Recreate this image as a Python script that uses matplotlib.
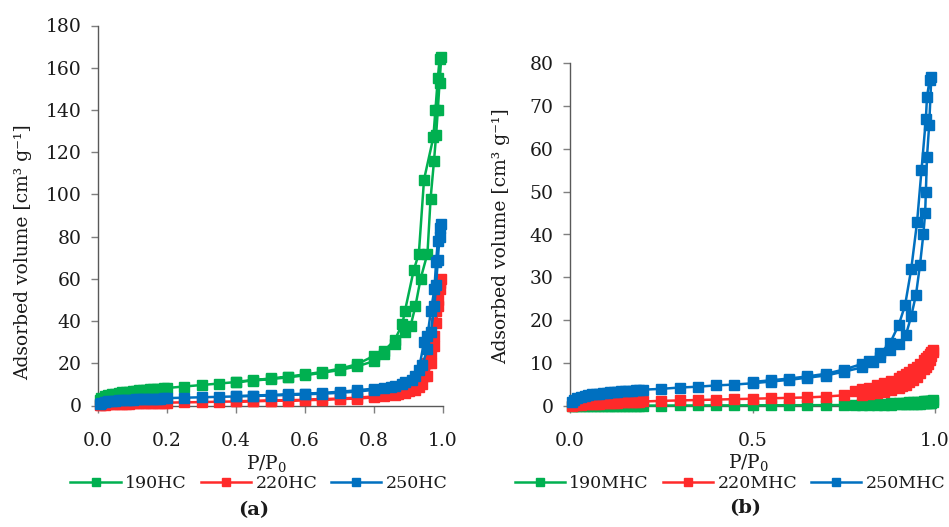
import matplotlib
matplotlib.use("Agg")
import matplotlib.pyplot as plt

plt.rcParams['font.family'] = ['DejaVu Serif']
plt.rcParams['mathtext.fontset'] = 'dejavuserif'
plt.rcParams['mathtext.default'] = 'regular'

# ---------------- Panel (a) data ----------------
a_labels = ["190HC", "220HC", "250HC"]

a190_ads_x = [0.005, 0.01, 0.02, 0.03, 0.04, 0.05, 0.06, 0.07, 0.08, 0.09, 0.10, 0.11, 0.12, 0.13, 0.14, 0.15, 0.16, 0.17, 0.18, 0.19, 0.20,
              0.25, 0.30, 0.35, 0.40, 0.45, 0.50, 0.55, 0.60, 0.65, 0.70, 0.75, 0.80,
              0.83, 0.86, 0.89, 0.906, 0.92, 0.935, 0.955, 0.964, 0.974, 0.98, 0.985, 0.99, 0.995]
a190_ads_y = [2.5, 3.5, 4.3, 4.9, 5.3, 5.6, 5.9, 6.2, 6.4, 6.6, 6.8, 7.0, 7.2, 7.3, 7.5, 7.6, 7.8, 7.9, 8.0, 8.1, 8.3,
              9.0, 9.7, 10.4, 11.1, 11.8, 12.5, 13.3, 14.3, 15.5, 16.8, 18.5, 21.0,
              24.5, 29, 35, 37.7, 47, 60, 72, 98, 116, 128, 140, 153, 165]
a190_des_x = [0.99, 0.985, 0.978, 0.972, 0.945, 0.93, 0.915, 0.89, 0.882, 0.86, 0.83, 0.80, 0.75, 0.70, 0.65, 0.60, 0.55, 0.50, 0.45, 0.40]
a190_des_y = [164, 155, 140, 127, 107, 72, 64, 45, 38.5, 31, 26, 23.5, 19.5, 17.4, 15.9, 14.7, 13.7, 12.8, 12.0, 11.3]

a220_ads_x = [0.005, 0.01, 0.02, 0.03, 0.04, 0.05, 0.06, 0.07, 0.08, 0.09, 0.10, 0.11, 0.12, 0.13, 0.14, 0.15, 0.16, 0.17, 0.18, 0.19, 0.20,
              0.25, 0.30, 0.35, 0.40, 0.45, 0.50, 0.55, 0.60, 0.65, 0.70, 0.75, 0.80,
              0.83, 0.86, 0.89, 0.92, 0.94, 0.955, 0.965, 0.975, 0.98, 0.985, 0.99, 0.995]
a220_ads_y = [0.2, 0.3, 0.4, 0.5, 0.6, 0.7, 0.75, 0.8, 0.85, 0.9, 0.95, 1.0, 1.05, 1.1, 1.15, 1.2, 1.2, 1.25, 1.3, 1.3, 1.35,
              1.5, 1.6, 1.8, 1.9, 2.0, 2.2, 2.3, 2.5, 2.7, 3.0, 3.3, 3.8,
              4.3, 5.0, 6.0, 7.5, 10, 14, 20, 28, 39, 47, 55, 60]
a220_des_x = [0.99, 0.985, 0.98, 0.975, 0.965, 0.955, 0.945, 0.93, 0.90, 0.87, 0.80, 0.75, 0.70, 0.65, 0.60, 0.55, 0.50, 0.45, 0.40]
a220_des_y = [58, 50, 45, 33, 25, 20, 14, 9, 7, 5.5, 4.3, 3.7, 3.3, 3.0, 2.7, 2.5, 2.3, 2.2, 2.0]

a250_ads_x = [0.005, 0.01, 0.02, 0.03, 0.04, 0.05, 0.06, 0.07, 0.08, 0.09, 0.10, 0.11, 0.12, 0.13, 0.14, 0.15, 0.16, 0.17, 0.18, 0.19, 0.20,
              0.25, 0.30, 0.35, 0.40, 0.45, 0.50, 0.55, 0.60, 0.65, 0.70, 0.75, 0.80,
              0.83, 0.86, 0.89, 0.92, 0.94, 0.955, 0.965, 0.975, 0.98, 0.985, 0.99, 0.995]
a250_ads_y = [0.8, 1.2, 1.6, 1.9, 2.1, 2.3, 2.4, 2.5, 2.6, 2.7, 2.8, 2.9, 3.0, 3.0, 3.1, 3.2, 3.2, 3.3, 3.3, 3.4, 3.5,
              3.7, 3.9, 4.1, 4.3, 4.5, 4.7, 5.0, 5.3, 5.6, 6.0, 6.6, 7.4,
              8.2, 9.3, 11, 14, 19, 27, 35, 47, 57, 69, 80, 86]
a250_des_x = [0.99, 0.985, 0.98, 0.975, 0.965, 0.955, 0.945, 0.93, 0.91, 0.88, 0.85, 0.80, 0.75, 0.70, 0.65, 0.60, 0.55, 0.50, 0.45, 0.40]
a250_des_y = [84, 78, 68, 55, 45, 33, 30, 17, 12, 10, 9, 8, 7.2, 6.5, 6.0, 5.6, 5.3, 5.0, 4.7, 4.5]

# ---------------- Panel (b) data ----------------
b_labels = ["190MHC", "220MHC", "250MHC"]

b_ads_x = [0.005, 0.01, 0.02, 0.03, 0.04, 0.05, 0.06, 0.07, 0.08, 0.09, 0.10, 0.11, 0.12, 0.13, 0.14, 0.15, 0.16, 0.17, 0.18, 0.19, 0.20,
           0.25, 0.30, 0.35, 0.40, 0.45, 0.50, 0.55, 0.60, 0.65, 0.70, 0.75, 0.80,
           0.82, 0.84, 0.86, 0.88, 0.90, 0.91, 0.92, 0.93, 0.94, 0.95, 0.96, 0.97, 0.975, 0.98, 0.985, 0.99, 0.995]
b_des_x = [0.995, 0.99, 0.985, 0.98, 0.975, 0.97, 0.96, 0.95, 0.94, 0.93, 0.92, 0.91, 0.90, 0.88, 0.86, 0.84, 0.82, 0.80, 0.78]

b190_ads_y = [0.0, 0.0, 0.02, 0.03, 0.04, 0.05, 0.05, 0.06, 0.06, 0.07, 0.07, 0.08, 0.08, 0.08, 0.09, 0.09, 0.09, 0.1, 0.1, 0.1, 0.1,
              0.11, 0.12, 0.13, 0.14, 0.15, 0.16, 0.17, 0.18, 0.19, 0.2, 0.22, 0.25,
              0.27, 0.29, 0.31, 0.34, 0.37, 0.39, 0.41, 0.44, 0.47, 0.5, 0.55, 0.6, 0.63, 0.67, 0.72, 0.78, 0.85]
b190_des_y = [1.3, 1.25, 1.2, 1.15, 1.1, 1.05, 0.98, 0.92, 0.87, 0.82, 0.77, 0.72, 0.68, 0.6, 0.53, 0.47, 0.42, 0.38, 0.34]

b220_ads_y = [0.1, 0.15, 0.2, 0.3, 0.35, 0.4, 0.45, 0.5, 0.55, 0.6, 0.65, 0.7, 0.75, 0.8, 0.85, 0.9, 0.92, 0.95, 0.98, 1.0, 1.05,
              1.2, 1.3, 1.4, 1.5, 1.6, 1.7, 1.8, 1.9, 2.0, 2.2, 2.5, 2.6,
              2.8, 3.0, 3.3, 3.7, 4.2, 4.6, 5.0, 5.5, 6.1, 6.8, 7.6, 8.6, 9.2, 9.9, 10.7, 11.6, 12.6]
b220_des_y = [13.0, 12.6, 12.2, 11.7, 11.2, 10.7, 9.9, 9.2, 8.6, 8.0, 7.5, 7.0, 6.6, 5.9, 5.3, 4.8, 4.3, 3.9, 3.5]

b250_ads_x = [0.005, 0.01, 0.02, 0.03, 0.04, 0.05, 0.06, 0.07, 0.08, 0.09, 0.10, 0.11, 0.12, 0.13, 0.14, 0.15, 0.16, 0.17, 0.18, 0.19, 0.20,
              0.25, 0.30, 0.35, 0.40, 0.45, 0.50, 0.55, 0.60, 0.65, 0.70, 0.75, 0.80,
              0.83, 0.85, 0.877, 0.90, 0.92, 0.935, 0.948, 0.959, 0.968, 0.973, 0.975, 0.978, 0.984, 0.99]
b250_ads_y = [1.0, 1.4, 1.8, 2.1, 2.3, 2.5, 2.7, 2.8, 2.9, 3.0, 3.1, 3.2, 3.3, 3.35, 3.4, 3.5, 3.55, 3.6, 3.7, 3.75, 3.8,
              4.0, 4.3, 4.5, 4.8, 5.0, 5.3, 5.7, 6.1, 6.6, 7.1, 8.0, 9.0,
              10.2, 11.5, 13.0, 14.5, 16.5, 21, 26, 33, 40, 45, 50, 58, 65.5, 76.7]
b250_des_x = [0.985, 0.978, 0.975, 0.963, 0.951, 0.935, 0.918, 0.901, 0.877, 0.85, 0.82, 0.80, 0.75, 0.70, 0.65, 0.60, 0.55, 0.50]
b250_des_y = [76, 72, 67, 55, 43, 32, 23.5, 19, 14.7, 12.3, 10.5, 9.8, 8.5, 7.5, 6.9, 6.4, 6.0, 5.6]

colors = ["#00B050", "#FF2A2A", "#0070C0"]
spine_col = "#595959"
tick_col = "#7F7F7F"
txt_col = "#1a1a1a"

W, H = 949, 527
fig = plt.figure(figsize=(W / 100, H / 100), dpi=100)

ax_a = fig.add_axes([98 / W, (H - 405.5) / H, 345 / W, 380 / H])
ax_b = fig.add_axes([570 / W, (H - 406) / H, 365 / W, 343 / H])


def draw(ax, series, labels):
    for (ax_x, ax_y, dx, dy), lab, c in zip(series, labels, colors):
        ax.plot(list(ax_x) + list(dx), list(ax_y) + list(dy), color=c, lw=1.8,
                marker='s', ms=7.6, mec=c, mfc=c, label=lab, clip_on=False, zorder=3)


draw(ax_a, [(a190_ads_x, a190_ads_y, a190_des_x, a190_des_y),
            (a220_ads_x, a220_ads_y, a220_des_x, a220_des_y),
            (a250_ads_x, a250_ads_y, a250_des_x, a250_des_y)], a_labels)
draw(ax_b, [(b_ads_x, b190_ads_y, b_des_x, b190_des_y),
            (b_ads_x, b220_ads_y, b_des_x, b220_des_y),
            (b250_ads_x, b250_ads_y, b250_des_x, b250_des_y)], b_labels)

ax_a.set_xlim(0, 1.0)
ax_a.set_ylim(0, 180)
ax_a.set_xticks([0.0, 0.2, 0.4, 0.6, 0.8, 1.0])
ax_a.set_xticklabels(["0.0", "0.2", "0.4", "0.6", "0.8", "1.0"])
ax_a.set_yticks(range(0, 181, 20))

ax_b.set_xlim(0, 1.0)
ax_b.set_ylim(0, 80)
ax_b.set_xticks([0.0, 0.5, 1.0])
ax_b.set_xticklabels(["0.0", "0.5", "1.0"])
ax_b.set_yticks(range(0, 81, 10))

ylab = "Adsorbed volume [cm³ g⁻¹]"
for ax in (ax_a, ax_b):
    for s in ("top", "right"):
        ax.spines[s].set_visible(False)
    for s in ("left", "bottom"):
        ax.spines[s].set_color(spine_col)
        ax.spines[s].set_linewidth(1.0)
    ax.tick_params(axis='both', colors=tick_col, labelcolor=txt_col, labelsize=13.5,
                   length=5, width=1, direction='out')
    ax.tick_params(axis='x', pad=14)
    ax.tick_params(axis='y', pad=7)
    ax.set_ylabel(ylab, fontsize=13.5, color=txt_col)
    ax.set_xlabel(r"P/P$_0$", fontsize=13.5, color=txt_col)

ax_a.yaxis.set_label_coords(-0.19, 0.404)
ax_b.yaxis.set_label_coords(-0.163, 0.496)
ax_a.xaxis.set_label_coords(0.49, -0.125)
ax_b.xaxis.set_label_coords(0.488, -0.135)

for ax, cx in ((ax_a, 259), (ax_b, 730)):
    leg = ax.legend(loc='center', bbox_to_anchor=(cx / W, 1 - 484 / H), bbox_transform=fig.transFigure,
                    ncol=3, frameon=False, fontsize=12.5, handlelength=2.9, handletextpad=0.25,
                    columnspacing=0.8, markerscale=0.7, borderaxespad=0, borderpad=0)
    for t in leg.get_texts():
        t.set_color(txt_col)

fig.text(254 / W, 1 - 510 / H, "(a)", ha='center', va='center', fontsize=14, fontweight='bold', color=txt_col)
fig.text(745 / W, 1 - 508 / H, "(b)", ha='center', va='center', fontsize=14, fontweight='bold', color=txt_col)

fig.savefig("out.png", dpi=100)
